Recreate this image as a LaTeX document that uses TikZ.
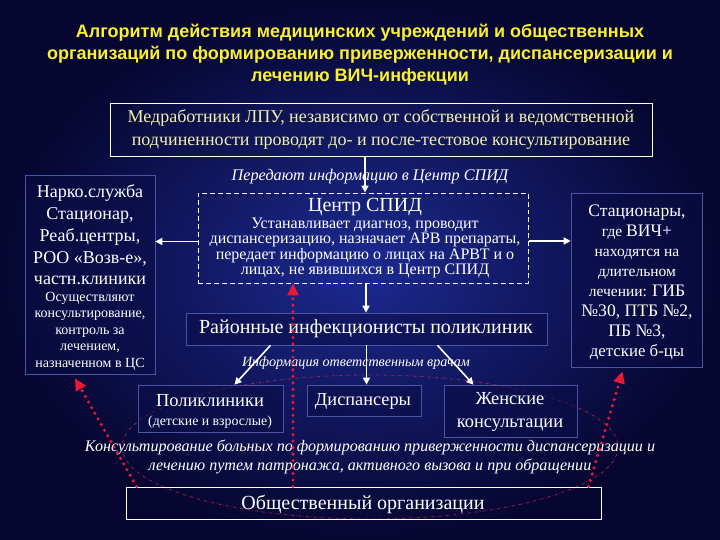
\documentclass[tikz,border=0pt]{standalone}
\usepackage{fontspec}
\setmainfont{Liberation Serif}
\newfontfamily\titlefont{Liberation Sans}
\usetikzlibrary{arrows.meta}
\definecolor{bgnavy}{RGB}{6,6,48}
\definecolor{bglight}{RGB}{28,42,145}
\definecolor{bgdeep}{RGB}{10,12,70}
\definecolor{boxline}{RGB}{75,85,160}
\definecolor{titleyellow}{RGB}{250,240,50}
\definecolor{paleyellow}{RGB}{242,240,175}
\definecolor{dotred}{RGB}{235,25,55}
\definecolor{ringred}{RGB}{150,35,75}
\newcommand{\fsz}[2]{\fontsize{#1bp}{#2bp}\selectfont}
\begin{document}
\begin{tikzpicture}[x=1bp,y=-1bp,
	box/.style={draw=boxline, line width=0.6pt, fill=bgdeep, fill opacity=0.55, inner sep=0pt},
	wbox/.style={draw=white, line width=1pt, inner sep=0pt},
	txt/.style={text=white, align=center, inner sep=0pt},
	itxt/.style={txt, font=\itshape},
	warr/.style={white, line width=1.6pt, -{Triangle[length=7pt,width=7pt]}},
	rarr/.style={dotred, line width=3.4pt, line cap=round, dash pattern=on 0pt off 6.5pt, -{Triangle[length=12pt,width=11pt]}},
	]
%					% Background
					\shade[inner color=bglight, outer color=bgnavy] (0,0) rectangle (720,540);
					\useasboundingbox (0,0) rectangle (720,540);
					\draw[ringred, dash dot, line width=0.8pt] (370,447) ellipse [x radius=248, y radius=72];
%					% Title
					\node[txt, text=titleyellow, font=\titlefont\bfseries\fsz{18}{22}] (title) at (360,55)
						{Алгоритм действия медицинских учреждений и общественных\\организаций по формированию приверженности, диспансеризации и\\лечению ВИЧ-инфекции};
%					% Boxes
					\node[wbox, minimum width=542bp, minimum height=53bp] (lpu) at (381,130) {};
					\node[wbox, dashed, dash pattern=on 5pt off 3pt, minimum width=330bp, minimum height=90bp] (spid) at (363,238) {};
					\node[box, minimum width=130bp, minimum height=199bp] (narko) at (90,274.5) {};
					\node[box, minimum width=131bp, minimum height=174bp] (stac) at (636.5,280) {};
					\node[box, minimum width=361bp, minimum height=32bp] (rayon) at (366.5,329) {};
					\node[box, minimum width=145bp, minimum height=47bp] (poli) at (210.5,408.5) {};
					\node[box, minimum width=114bp, minimum height=31bp] (disp) at (364,400.5) {};
					\node[box, minimum width=133bp, minimum height=52bp] (zhen) at (510.5,411) {};
					\node[wbox, minimum width=475bp, minimum height=32bp] (obsh) at (363.5,503) {};
%					% Texts
					\node[txt, text=paleyellow, font=\fsz{18}{23}] (lpuT) at (381,130)
						{Медработники ЛПУ, независимо от собственной и ведомственной\\подчиненности проводят до- и после-тестовое консультирование};
					\node[itxt, font=\itshape\fsz{16.2}{18}] (peredT) at (370,177) {Передают информацию в Центр СПИД};
					\node[txt, font=\fsz{20}{22}] (spidT) at (365,207) {Центр СПИД};
					\node[txt, font=\fsz{16}{15.3}] (spidB) at (365,248)
						{Устанавливает диагноз, проводит\\диспансеризацию, назначает АРВ препараты,\\передает информацию о лицах на АРВТ и о\\лицах, не явившихся в Центр СПИД};
					\node[txt, font=\fsz{18}{21.8}] (narkoA) at (90,235)
						{Нарко.служба\\Стационар,\\Реаб.центры,\\РОО «Возв-е»,\\частн.клиники};
					\node[txt, font=\fsz{14}{16.5}] (narkoB) at (90,331)
						{Осуществляют\\консультирование,\\контроль за\\лечением,\\назначенном в ЦС};
					\node[txt, font=\fsz{15.5}{20}] (stacT) at (637,282)
						{{\fsz{17.6}{20}Стационары,}\\где {\fsz{17.6}{20}ВИЧ+}\\находятся на\\длительном\\лечении: {\fsz{17.6}{20}ГИБ}\\{\fsz{17.6}{20}№30, ПТБ №2,}\\{\fsz{17.6}{20}ПБ №3,}\\{\fsz{16.8}{22}детские б-цы}};
					\node[txt, font=\fsz{20}{22}] (rayonT) at (366,329) {Районные инфекционисты поликлиник};
					\node[itxt, font=\itshape\fsz{14.1}{16}] (infoT) at (356,363) {Информация ответственным врачам};
					\node[txt, font=\fsz{18.4}{20}] (poliT) at (210,401) {Поликлиники};
					\node[txt, font=\fsz{13.8}{14}] (poliB) at (210,422) {(детские и взрослые)};
					\node[txt, font=\fsz{18.3}{20}] (dispT) at (363,401) {Диспансеры};
					\node[txt, font=\fsz{18.4}{22.5}] (zhenT) at (510,412) {Женские\\консультации};
					\node[itxt, font=\itshape\fsz{16.1}{19}] (konsT) at (370,457)
						{Консультирование больных по формированию приверженности диспансеризации и\\лечению путем патронажа, активного вызова и при обращении};
					\node[txt, font=\fsz{20}{22}] (obshT) at (363,504) {Общественный организации};
%					% Arrows
					\draw[warr] (lpu.south -| spidT.north) -- (spid.north -| spidT.north);
					\draw[warr] (spid.west |- narko.east) ++(0,-33) coordinate (sl) -- (sl -| narko.east);
					\draw[warr] (spid.east |- stac.west) ++(0,-39) coordinate (sr) -- (sr -| stac.west);
					\draw[warr] (spid.south -| rayonT.north) -- (rayon.north -| rayonT.north);
					\draw[warr] ([xshift=-96bp]rayon.south) -- ([xshift=24bp]poli.north);
					\draw[warr] (rayon.south) -- (disp.north -| rayon.south);
					\draw[warr] ([xshift=71bp]rayon.south) -- ([xshift=-37bp]zhen.north);
%					% Red dotted arrows
					\coordinate (redx) at (293,0);
					\draw[rarr] (redx |- obsh.north) -- (redx |- spid.south);
					\draw[rarr] ([xshift=11bp]obsh.north west) -- ([xshift=-15bp,yshift=-4bp]narko.south);
					\draw[rarr] ([xshift=-13bp]obsh.north east) -- ([xshift=-14bp,yshift=-4bp]stac.south);
\end{tikzpicture}
\end{document}
